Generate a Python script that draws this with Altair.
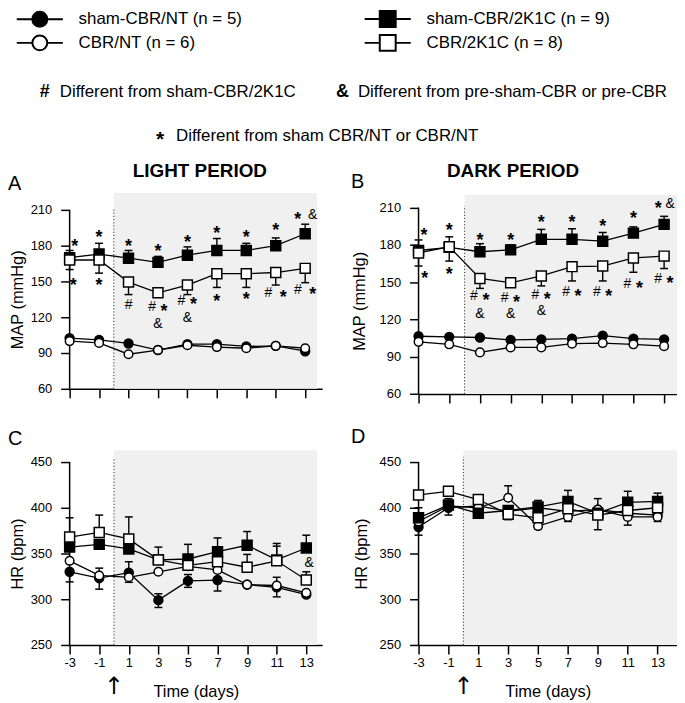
import altair as alt
import pandas as pd

FONT = "Liberation Sans"

DAYS = [-3, -1, 1, 3, 5, 7, 9, 11, 13]
SERIES = ["sham-CBR/NT (n = 5)", "CBR/NT (n = 6)", "sham-CBR/2K1C (n = 9)", "CBR/2K1C (n = 8)"]

# ---------------- A: MAP, light period
A_SHAM_NT = [102.5, 101, 98, 92.5, 97.5, 97.5, 95.5, 96, 91.5]
A_CBR_NT = [100, 98.5, 89, 92.5, 96.5, 95, 94, 96, 94]
A_SHAM_2K1C = [170, 173, 169.5, 166, 172, 176, 176, 180, 190]
A_CBR_2K1C = [168, 168, 149.5, 140.5, 147, 156.5, 156.5, 157.5, 161]
A_SHAM_2K1C_HI = [176, 182, 176, 171, 179, 186, 182, 186.5, 198]
A_CBR_2K1C_LO = [160, 157, 139, 137, 139, 145, 145, 147, 149]
A_MARKS = [(-2.66, 182.8, "*"), (-2.76, 150, "*"), (-1, 190.6, "*"), (-1, 150, "*"),
           (1, 183.3, "*"), (1, 130.6, "#"), (3, 178.6, "*"), (3, 128.5, "#*"), (3, 114, "&"),
           (5, 186, "*"), (5, 134, "#*"), (5, 119.5, "&"), (7, 194, "*"), (7, 137, "*"),
           (9, 190.6, "*"), (9, 139, "*"), (11, 196.7, "*"), (11, 140, "# *"),
           (13, 206, "* &"), (13, 142.5, "# *")]

# ---------------- B: MAP, dark period
B_SHAM_NT = [106.5, 106, 105.5, 103.5, 104, 104.5, 107, 104.5, 104]
B_CBR_NT = [102, 100, 93.5, 97.5, 97.5, 100.5, 101, 100, 98.5]
B_SHAM_2K1C = [175.5, 178, 174.5, 176, 184.5, 184.5, 183, 189.5, 196.5]
B_CBR_2K1C = [173.5, 178.5, 153, 149.5, 155, 162.5, 163, 169.5, 171]
B_SHAM_2K1C_HI = [184, 186.5, 181, 180, 192.5, 193, 190, 194.5, 203]
B_CBR_2K1C_LO = [163, 167, 145, 147, 147, 151, 151, 158, 161]
B_MARKS = [(-2.64, 191.4, "*"), (-2.6, 156.8, "*"), (-1, 195, "*"), (-1, 160, "*"),
           (1, 187.4, "*"), (1, 138.5, "#*"), (1, 124.5, "&"), (3, 187.4, "*"), (3, 137.5, "#*"),
           (3, 124, "&"), (5, 201.3, "*"), (5, 140, "#*"), (5, 126.5, "&"), (7, 201.3, "*"),
           (7, 142, "#*"), (9, 198.6, "*"), (9, 142, "#*"), (11, 204.8, "*"), (11, 148.8, "#*"),
           (13, 212.8, "*&"), (13, 152.8, "#*")]

# ---------------- C: HR, light period
C_SHAM_NT = [330, 323, 329, 299, 320, 321, 316, 313, 305]
C_CBR_NT = [342, 326, 324, 330, 336, 332, 316, 315, 307]
C_SHAM_2K1C = [357, 360, 355, 343, 344, 352, 359, 343, 356]
C_CBR_2K1C = [368, 373, 366, 343, 337, 341, 335, 342, 321]
C_SHAM_NT_LO = [319, 311, None, 291, 313, 309, None, 302.6, None]
C_SHAM_NT_HI = [None, None, 341, 306, 327, None, None, None, None]
C_CBR_NT_LO = [None, None, 318.5, None, None, None, None, None, None]
C_CBR_NT_HI = [None, 334, None, None, None, None, None, 324, None]
C_SHAM_2K1C_HI = [None, None, None, 357, 360, 367, 374, 361, 370]
C_CBR_2K1C_HI = [389, 392, 390, None, None, 357, 349, 358, 330]
C_MARKS = [(13.2, 339.6, "&")]

# ---------------- D: HR, dark period
D_SHAM_NT = [379, 400, 402, 396, 400, 396, 398, 394, 392]
D_CBR_NT = [385, 402, 400, 411, 380, 390, 398, 390, 390]
D_SHAM_2K1C = [389, 403, 394, 397, 401, 407, 394, 406, 407]
D_CBR_2K1C = [414, 418, 409, 393, 389, 399, 392, 397, 400]
D_SHAM_NT_LO = [370, 392, None, None, None, None, None, None, None]
D_SHAM_2K1C_HI = [400, 410, None, None, 408, 419, None, 418, 416]
D_CBR_NT_HI = [None, None, None, 424, None, None, 410, None, None]
D_CBR_NT_LO = [None, None, None, None, 377, 385, None, 381, 385]
D_CBR_2K1C_LO = [None, None, None, 387, None, None, 376, None, None]
D_MARKS = []

MEANS = {
    "A": [A_SHAM_NT, A_CBR_NT, A_SHAM_2K1C, A_CBR_2K1C],
    "B": [B_SHAM_NT, B_CBR_NT, B_SHAM_2K1C, B_CBR_2K1C],
    "C": [C_SHAM_NT, C_CBR_NT, C_SHAM_2K1C, C_CBR_2K1C],
    "D": [D_SHAM_NT, D_CBR_NT, D_SHAM_2K1C, D_CBR_2K1C],
}
ERRS = {
    "A": [(2, A_SHAM_2K1C_HI), (3, A_CBR_2K1C_LO)],
    "B": [(2, B_SHAM_2K1C_HI), (3, B_CBR_2K1C_LO)],
    "C": [(0, C_SHAM_NT_LO), (0, C_SHAM_NT_HI), (1, C_CBR_NT_LO), (1, C_CBR_NT_HI),
          (2, C_SHAM_2K1C_HI), (3, C_CBR_2K1C_HI)],
    "D": [(0, D_SHAM_NT_LO), (2, D_SHAM_2K1C_HI), (1, D_CBR_NT_HI), (1, D_CBR_NT_LO),
          (3, D_CBR_2K1C_LO)],
}
MARKS = {"A": A_MARKS, "B": B_MARKS, "C": C_MARKS, "D": D_MARKS}

# layout of each panel (plot-area geometry and axis ranges)
CFG = {
    "A": dict(w=254, h=197, xmax=14.15, ymin=60, ymax=224.2, ytop=210, ystep=30, shade_x2=13.81,
              shade_y2=224.2, dot_top=211.7, ytitle="MAP (mmHg)", ty=107, tx=-52, xlab=False),
    "B": dict(w=260, h=202.25, xmax=13.84, ymin=60, ymax=221.8, ytop=210, ystep=30, shade_x2=13.84,
              shade_y2=220.2, dot_top=211.4, ytitle="MAP (mmHg)", ty=108.5, tx=-59, xlab=False),
    "C": dict(w=254, h=196, xmax=14.07, ymin=250, ymax=463, ytop=450, ystep=50, shade_x2=13.72,
              shade_y2=463, dot_top=455, ytitle="HR (bpm)", ty=104, tx=-52, xlab=True),
    "D": dict(w=260, h=196, xmax=14.3, ymin=250, ymax=463, ytop=450, ystep=50, shade_x2=14.3,
              shade_y2=463, dot_top=455.8, ytitle="HR (bpm)", ty=104, tx=-57, xlab=True),
}

MARKER_STYLES = [
    dict(shape="circle", size=80, fill="black", stroke="black"),
    dict(shape="circle", size=75, fill="white", stroke="black"),
    dict(shape="square", size=100, fill="black", stroke="black"),
    dict(shape="square", size=100, fill="white", stroke="black"),
]

CIRCLE_PATH = ("M-2.9,0H-0.94M0.94,0H2.9M0.94,0A0.94,0.94,0,1,1,-0.94,0"
               "A0.94,0.94,0,1,1,0.94,0Z")
SQUARE_PATH = "M-2.9,0H-1M1,0H2.9M-1,-1H1V1H-1Z"

TEXTS = {
    "A": [("A", -62, -3, 20, "normal"), ("LIGHT PERIOD", 131, -16, 19, "bold", "center"),
          ("#", -30, -97, 18, "bold"), ("Different from sham-CBR/2K1C", -10, -97, 17, "normal"),
          ("&", 268, -97, 18, "bold"), ("Different from pre-sham-CBR  or pre-CBR", 290, -97, 17, "normal"),
          ("*", 87, -47, 21, "bold"), ("Different from  sham CBR/NT or CBR/NT", 107, -52, 17, "normal")],
    "B": [("B", -68, -5, 20, "normal"), ("DARK PERIOD", 95, -16, 19, "bold", "center")],
    "C": [("C", -62, -5, 20, "normal")],
    "D": [("D", -68, -7, 20, "normal")],
}


def text_layer(spec):
    s, x, y, size, weight = spec[:5]
    align = spec[5] if len(spec) > 5 else "left"
    return alt.Chart(pd.DataFrame({"t": [s]})).mark_text(
        font=FONT, fontSize=size, fontWeight=weight, align=align, baseline="alphabetic", color="black"
    ).encode(x=alt.value(x), y=alt.value(y), text="t:N")


def panel(key):
    c = CFG[key]
    pxu = c["w"] / (c["xmax"] + 3)
    xscale = alt.Scale(domain=[-3, c["xmax"]], nice=False, zero=False)
    yscale = alt.Scale(domain=[c["ymin"], c["ymax"]], nice=False, zero=False)
    if c["xlab"]:
        xaxis = alt.Axis(values=DAYS, title="Time (days)", labelExpr="datum.value + ''",
                         labelFlush=False, labelOverlap=False, tickSize=9, labelPadding=3,
                         titlePadding=14)
    else:
        xaxis = alt.Axis(values=DAYS, title=None, labels=False, tickSize=9)
    yaxis = alt.Axis(values=list(range(c["ymin"], c["ytop"] + 1, c["ystep"])), title=c["ytitle"],
                     domain=False, tickSize=9, labelPadding=9, titleX=c["tx"], titleY=c["ty"],
                     titleAngle=270, titleAlign="center", titleBaseline="middle")

    def X(f):
        return alt.X(f, type="quantitative", scale=xscale, axis=xaxis)

    def Y(f):
        return alt.Y(f, type="quantitative", scale=yscale, axis=yaxis)

    means = pd.DataFrame([
        {"series": SERIES[i], "day": d, "value": v}
        for i, vals in enumerate(MEANS[key]) for d, v in zip(DAYS, vals)
    ])
    errs = pd.DataFrame([
        {"series": SERIES[i], "day": d, "value": v, "end": e}
        for i, ends in ERRS[key]
        for d, v, e in zip(DAYS, MEANS[key][i], ends) if e is not None
    ])
    ann_rows = []
    for day, yv, txt in MARKS[key]:
        chars = txt.split() if " " in txt else list(txt)
        slot = 15 if " " in txt else 12
        n = len(chars)
        for j, ch in enumerate(chars):
            ann_rows.append({"x": day + (j - (n - 1) / 2) * slot / pxu, "y": yv, "ch": ch})
    ann = pd.DataFrame(ann_rows, columns=["x", "y", "ch"])

    layers = []
    shade = pd.DataFrame({"day": [0], "x2": [c["shade_x2"]], "value": [c["ymin"]], "v2": [c["shade_y2"]]})
    layers.append(alt.Chart(shade).mark_rect(color="#f0f0f0").encode(
        x=X("day"), x2="x2:Q", y=Y("value"), y2="v2:Q"))
    dot = pd.DataFrame({"day": [0], "value": [c["ymin"]], "v2": [c["dot_top"]]})
    layers.append(alt.Chart(dot).mark_rule(color="#333", strokeWidth=1, strokeDash=[1.2, 2]).encode(
        x=X("day"), y=Y("value"), y2="v2:Q"))
    yline = pd.DataFrame({"day": [-3], "value": [c["ymin"]], "v2": [c["ytop"]]})
    layers.append(alt.Chart(yline).mark_rule(color="black", strokeWidth=1.5).encode(
        x=X("day"), y=Y("value"), y2="v2:Q"))
    layers.append(alt.Chart(means).mark_line(color="black", strokeWidth=1.3).encode(
        x=X("day"), y=Y("value"), detail="series:N"))
    if len(errs):
        layers.append(alt.Chart(errs).mark_rule(color="black", strokeWidth=1.4).encode(
            x=X("day"), y=Y("value"), y2="end:Q"))
        layers.append(alt.Chart(errs).mark_tick(color="black", orient="horizontal", size=8,
                                                thickness=1.5, opacity=1).encode(
            x=X("day"), y=Y("end")))
    for s, st in zip(SERIES, MARKER_STYLES):
        layers.append(alt.Chart(means[means.series == s]).mark_point(
            filled=True, opacity=1, strokeWidth=1.5, **st).encode(x=X("day"), y=Y("value")))
    if len(ann):
        stars = ann[ann.ch == "*"]
        others = ann[ann.ch != "*"]
        if len(stars):
            layers.append(alt.Chart(stars).mark_text(
                font=FONT, fontSize=18, fontWeight="bold", baseline="middle", align="center",
                dy=5, color="black").encode(x=X("x"), y=Y("y"), text="ch:N"))
        if len(others):
            layers.append(alt.Chart(others).mark_text(
                font=FONT, fontSize=14, baseline="middle", align="center", color="black").encode(
                x=X("x"), y=Y("y"), text="ch:N"))
    if c["xlab"]:
        arrow = pd.DataFrame({"day": [0], "t": ["↑"]})
        layers.append(alt.Chart(arrow).mark_text(font="DejaVu Sans", fontSize=24, baseline="middle",
                                                 color="black").encode(
            x=X("day"), y=alt.value(c["h"] + 42), text="t:N"))
    for spec in TEXTS[key]:
        layers.append(text_layer(spec))
    if key == "A":
        leg = alt.Legend(title=None, orient="none", legendX=-39, legendY=-184, columns=2,
                         columnPadding=118, rowPadding=0, symbolSize=256, symbolStrokeWidth=2,
                         symbolStrokeColor="black", symbolOpacity=1, labelFont=FONT,
                         labelFontSize=17, labelColor="black", labelOffset=30, labelLimit=400,
                         padding=0)
        layers.append(alt.Chart(means).mark_point(opacity=0).encode(
            x=X("day"), y=Y("value"),
            shape=alt.Shape("series:N", scale=alt.Scale(
                domain=SERIES, range=[CIRCLE_PATH, CIRCLE_PATH, SQUARE_PATH, SQUARE_PATH]),
                legend=leg),
            fill=alt.Fill("series:N", scale=alt.Scale(
                domain=SERIES, range=["black", "white", "black", "white"]), legend=leg),
            stroke=alt.Stroke("series:N", scale=alt.Scale(
                domain=SERIES, range=["black", "black", "black", "black"]), legend=leg)))
    return alt.layer(*layers).properties(width=c["w"], height=c["h"])


chart = alt.concat(
    panel("A"), panel("B"), panel("C"), panel("D"),
    columns=2, spacing=alt.RowColnumber(row=55.7, column=97), bounds="flush",
).configure_view(stroke=None).configure_axis(
    labelFont=FONT, labelFontSize=13, labelColor="black", titleFont=FONT, titleFontSize=16.5,
    titleFontWeight="normal", titleColor="black", domainColor="black", tickColor="black",
    domainWidth=1.5, tickWidth=1.5, grid=False,
).properties(padding=0, background="white")

chart.save("out.html", embed_options={"renderer": "svg", "actions": False})
